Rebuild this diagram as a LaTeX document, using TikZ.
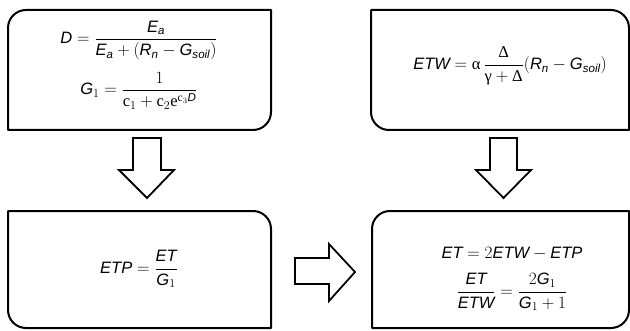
\documentclass[tikz,border=0pt]{standalone}
\usepackage{amsmath}
\usepackage{fontspec}
\setmainfont{Liberation Serif}
\setsansfont{Liberation Sans}
\newcommand{\vv}[1]{\text{\sffamily\itshape #1}}
\newcommand{\gk}[1]{\text{\rmfamily #1}}

\begin{document}
\begin{tikzpicture}[x=1pt, y=1pt,
	box/.style={line width=2pt, line join=round},
	blockarrow/.style={line width=1.8pt, line join=miter, fill=white},
	every node/.style={font=\fontsize{16.5}{19}\selectfont}]
		\useasboundingbox (0,0) rectangle (630,330);
		% the four boxes
		\draw[box] (8,200) -- (8,302) arc[start angle=180, end angle=90, radius=18] -- (271,320) -- (271,218) arc[start angle=0, end angle=-90, radius=18] -- cycle;
		\draw[box] (371,218) -- (371,320) -- (611,320) arc[start angle=90, end angle=0, radius=18] -- (629,200) -- (389,200) arc[start angle=270, end angle=180, radius=18] -- cycle;
		\draw[box] (8,20) -- (8,119) -- (253,119) arc[start angle=90, end angle=0, radius=18] -- (271,2) -- (26,2) arc[start angle=270, end angle=180, radius=18] -- cycle;
		\draw[box] (372,2) -- (372,101) arc[start angle=180, end angle=90, radius=18] -- (629,119) -- (629,20) arc[start angle=0, end angle=-90, radius=18] -- cycle;
		% formulas
		\node (drat) at (139,265) {$\begin{gathered}
			\vv{D} = \dfrac{\vv{E}_{\vv{a}}}{\vv{E}_{\vv{a}} + (\vv{R}_{\vv{n}} - \vv{G}_{\vv{soil}})}\\[8pt]
			\vv{G}_1 = \dfrac{1}{\mathrm{c}_1 + \mathrm{c}_2\mathrm{e}^{\mathrm{c}_3 \vv{D}}}
			\end{gathered}$};
		\node (etw) at (510,264) {$\vv{ETW} = \gk{α}\,\dfrac{\gk{Δ}}{\gk{γ} + \gk{Δ}}(\vv{R}_{\vv{n}} - \vv{G}_{\vv{soil}})$};
		\node (etp) at (139,61) {$\vv{ETP} = \dfrac{\vv{ET}}{\vv{G}_1}$};
		\node (et) at (512,52) {$\begin{gathered}
			\vv{ET} = 2\vv{ETW} - \vv{ETP}\\[5pt]
			\dfrac{\vv{ET}}{\vv{ETW}} = \dfrac{2\vv{G}_1}{\vv{G}_1 + 1}
			\end{gathered}$};
		% block arrows
		\draw[blockarrow] (133,192) -- (161,192) -- (161,160) -- (174,160) -- (147,132) -- (119,160) -- (133,160) -- cycle;
		\draw[blockarrow] (490,192) -- (517,192) -- (517,160) -- (531,160) -- (503.5,132) -- (476,160) -- (490,160) -- cycle;
		\draw[blockarrow] (295,72) -- (329,72) -- (329,86) -- (355,58) -- (329,29) -- (329,46) -- (295,46) -- cycle;
\end{tikzpicture}
\end{document}
